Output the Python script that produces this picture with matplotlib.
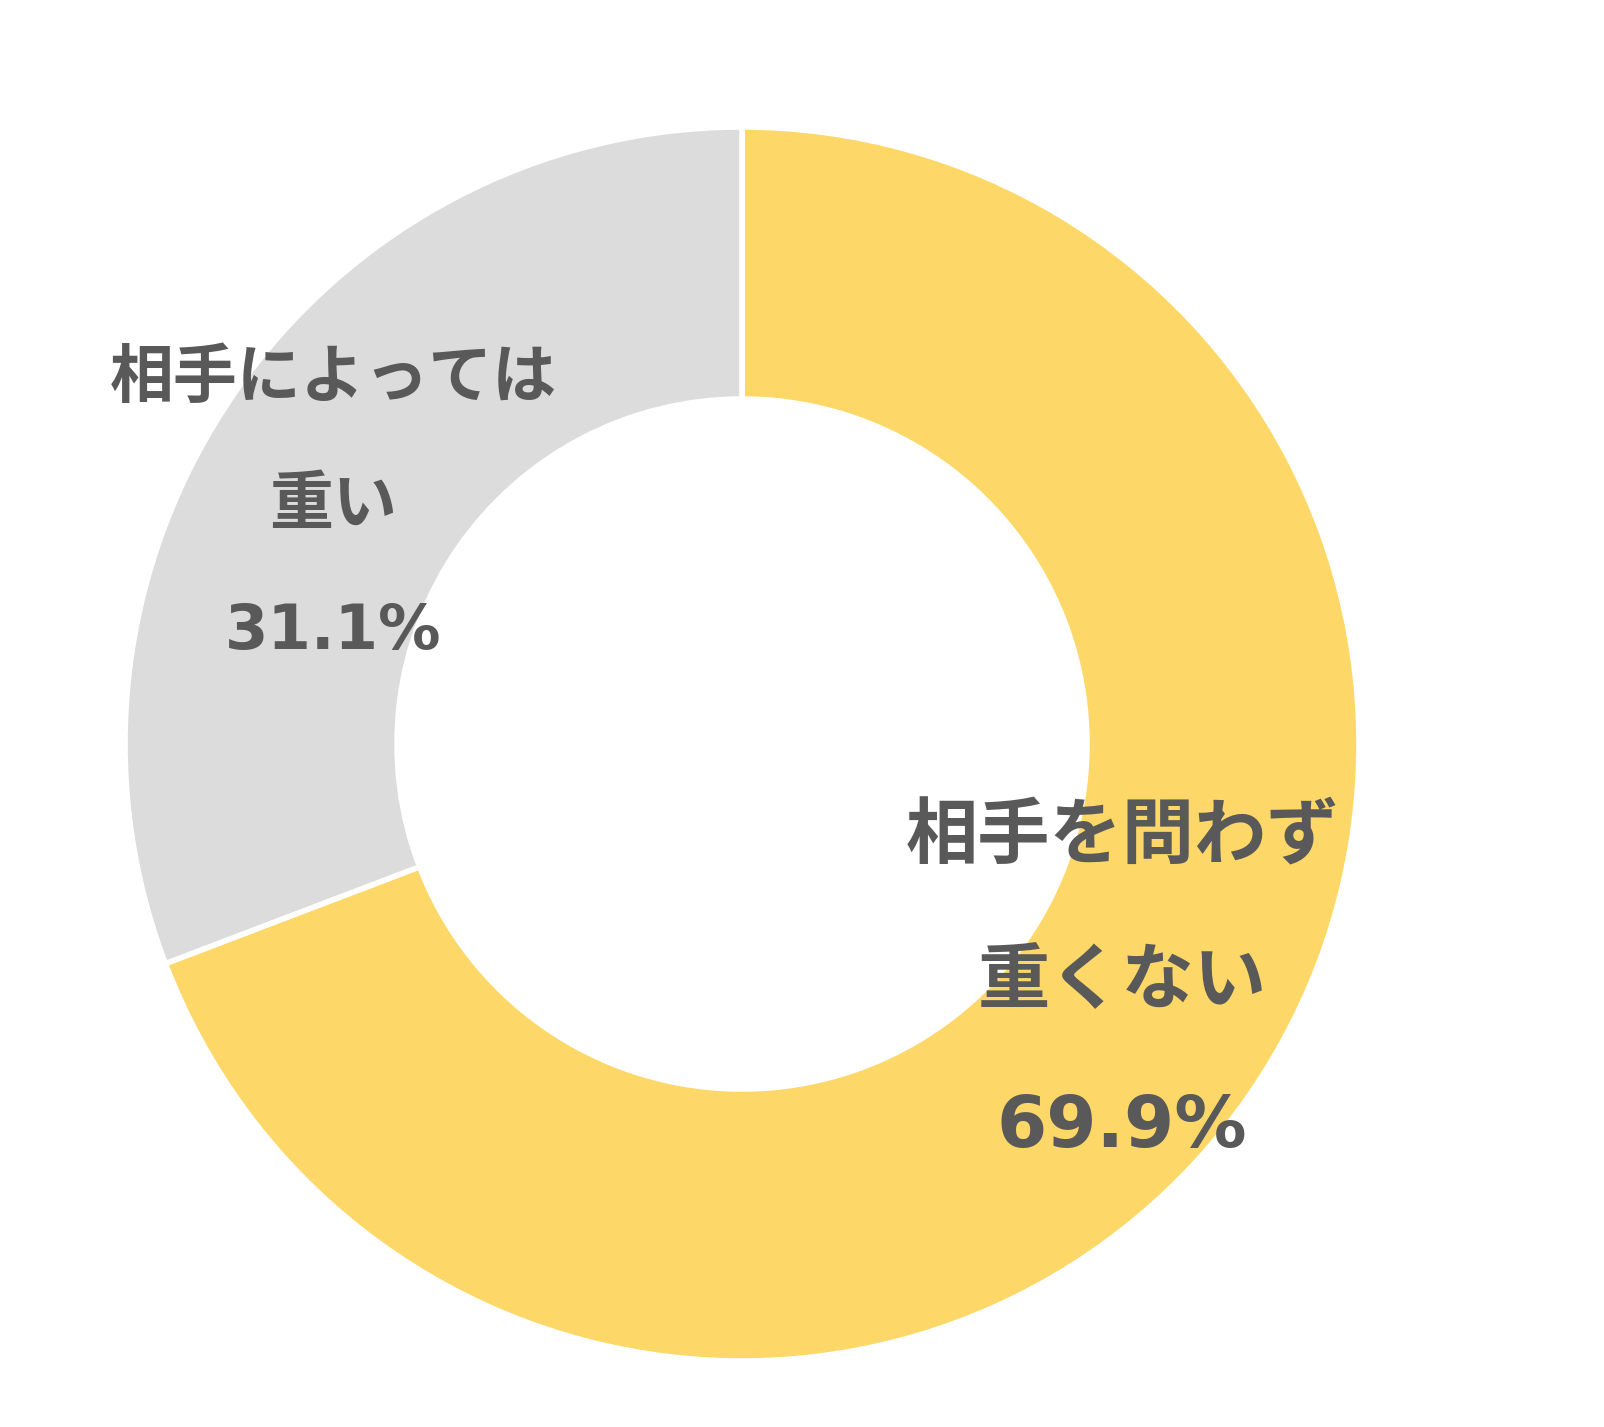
import matplotlib.pyplot as plt

plt.rcParams["font.family"] = ["Noto Sans CJK JP", "DejaVu Sans"]

labels = ["相手を問わず\n重くない", "相手によっては\n重い"]
values = [69.9, 31.1]
colors = ["#FDD868", "#DCDCDC"]
text_color = "#595959"

fig = plt.figure(figsize=(16.04, 14.27), dpi=100)
ax = fig.add_axes([0, 0, 1, 1])

cx, cy, r_out = 742, 1427 - 744, 617
wedges, _ = ax.pie(
    values, colors=colors, startangle=90, counterclock=False,
    center=(cx, cy), radius=r_out, frame=True,
    wedgeprops=dict(width=272, edgecolor="white", linewidth=4),
)
ax.set_xlim(0, 1604)
ax.set_ylim(0, 1427)
ax.set_aspect("equal")
ax.axis("off")

# label anchor points (centre of text block)
label_pos = [(1122, 1427 - 982), (333, 1427 - 505)]
label_size = [52, 46]
pct_size = [52, 45]
line_gap = [145, 127]
for lab, v, (x, y), fs, ps, gap in zip(labels, values, label_pos, label_size, pct_size, line_gap):
    lines = lab.split("\n")
    for i, line in enumerate(lines):
        ax.text(x, y + gap - i * gap, line, ha="center", va="center",
                fontsize=fs, fontweight="bold", color=text_color)
    ax.text(x, y - gap, f"{v:.1f}%", ha="center", va="center",
            fontsize=ps, fontweight="bold", color=text_color,
            family="DejaVu Sans")

fig.savefig("out.png", dpi=100)
